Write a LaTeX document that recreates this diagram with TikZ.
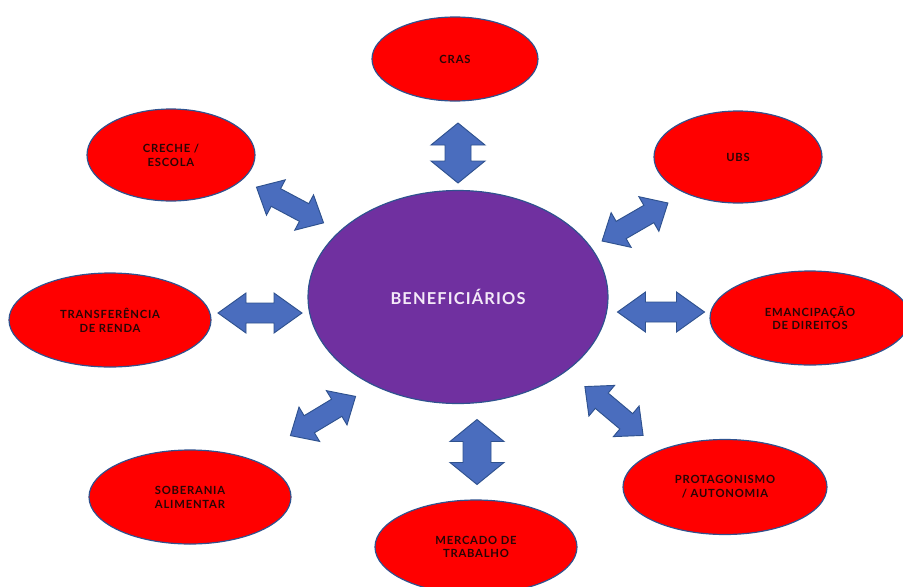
\documentclass[tikz,border=0pt]{standalone}
\usepackage{fontspec}
\setmainfont{Lato}
\newfontfamily\rotulo{Lato}[LetterSpace=7]
\usetikzlibrary{shapes.geometric}

\definecolor{roxo}{HTML}{7030A0}
\definecolor{contorno}{HTML}{2F528F}
\definecolor{azulseta}{HTML}{4A6DBE}
\definecolor{textoesc}{HTML}{2A0505}
\definecolor{lilas}{HTML}{F4EAF8}

% seta dupla: x, y, angulo, comprimento, meia cabeca, meia haste, cabeca
\newcommand{\setadupla}[7]{%
  \draw[seta, shift={(#1,#2)}, rotate=#3]
    ({-#4/2},0) -- ({-#4/2+#7},#5) -- ({-#4/2+#7},#6) -- ({#4/2-#7},#6)
    -- ({#4/2-#7},#5) -- ({#4/2},0) -- ({#4/2-#7},-#5) -- ({#4/2-#7},-#6)
    -- ({-#4/2+#7},-#6) -- ({-#4/2+#7},-#5) -- cycle;}

\begin{document}
\begin{tikzpicture}[x=0.3mm, y=-0.3mm]
\tikzstyle{centro}=[ellipse, draw=contorno, line width=1pt, fill=roxo,
                    text=lilas, minimum width=300*0.3mm, minimum height=213*0.3mm,
                    font=\rotulo\fontsize{14}{16}\selectfont\bfseries]
\tikzstyle{eixo}=[ellipse, draw=contorno, line width=1pt, fill=red, text=textoesc,
                  inner sep=0pt, align=center, minimum width=202*0.3mm,
                  minimum height=94*0.3mm, font=\rotulo\fontsize{9.6}{11.8}\selectfont\bfseries]
\tikzstyle{seta}=[draw=contorno, line width=0.8pt, fill=azulseta, line join=miter]
\useasboundingbox (0,0) rectangle (903,586);
\clip (0,0) rectangle (903,586);
	\node[centro] (ben) at (458,297){BENEFICIÁRIOS};
	\node[eixo, minimum width=166*0.3mm, minimum height=84*0.3mm] (cras) at (455,59){CRAS};
	\node[eixo, minimum width=168*0.3mm, minimum height=92*0.3mm] (creche) at (171,155){CRECHE /\\ESCOLA};
	\node[eixo, minimum width=168*0.3mm, minimum height=92*0.3mm] (ubs) at (738,157){UBS};
	\node[eixo] (renda) at (110,320){TRANSFERÊNCIA\\DE RENDA};
	\node[eixo, minimum width=200*0.3mm] (direitos) at (810,318){EMANCIPAÇÃO\\DE DIREITOS};
	\node[eixo] (soberania) at (190,497){SOBERANIA\\ALIMENTAR};
	\node[eixo] (trabalho) at (476,547){MERCADO DE\\TRABALHO};
	\node[eixo, minimum width=204*0.3mm, minimum height=95*0.3mm] (autonomia) at (725,487){PROTAGONISMO\\/ AUTONOMIA};
% setas
\setadupla{458}{153}{90}{60}{27}{13}{22}
\setadupla{477}{452}{90}{65}{27}{14}{22}
\setadupla{260}{313}{0}{84}{20}{10}{28}
\setadupla{661}{312}{0}{87}{20}{10}{28}
\setadupla{290}{205}{-28}{76}{20}{10}{22}
\setadupla{635}{222}{30}{76}{20}{10}{22}
\setadupla{323}{416}{31}{76}{20}{10}{22}
\setadupla{614}{411}{-40}{76}{20}{10}{22}
\end{tikzpicture}
\end{document}
